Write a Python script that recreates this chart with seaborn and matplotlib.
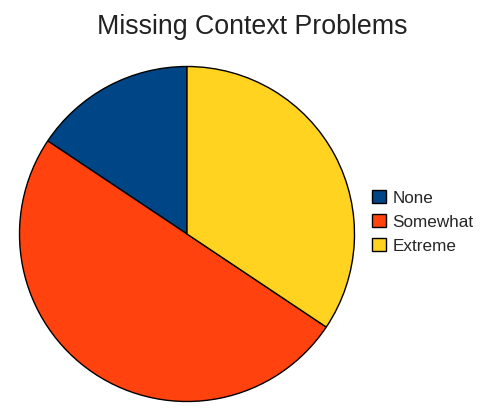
import matplotlib
matplotlib.use("Agg")
import matplotlib.pyplot as plt
import seaborn as sns

categories = ["None", "Somewhat", "Extreme"]
counts = [5, 16, 11]
colors = ["#004586", "#ff420e", "#ffd320"]

sns.set_style("white")
plt.rcParams["font.family"] = ["Liberation Sans", "DejaVu Sans"]

W, H = 485, 412
fig = plt.figure(figsize=(W / 100, H / 100), dpi=100)
fig.patch.set_facecolor("white")

# pie area: centre (187, 234) px, radius 168 px
cx, cy, r = 187, 234, 168
ax = fig.add_axes([(cx - r) / W, (H - cy - r) / H, 2 * r / W, 2 * r / H])
wedges, _ = ax.pie(counts, colors=colors, startangle=90, counterclock=True,
                   radius=1.0, wedgeprops=dict(edgecolor="black", linewidth=1.0))
ax.set_xlim(-1.003, 1.003)
ax.set_ylim(-1.003, 1.003)
ax.set_aspect("equal")
ax.axis("off")

fig.text(252 / W, 1 - 27 / H, "Missing Context Problems", ha="center", va="center",
         fontsize=19.3, color="#222222")

fig.legend(wedges, categories, loc="center left", bbox_to_anchor=(372 / W, 1 - 222 / H),
           frameon=False, fontsize=12.3, handlelength=0.8, handleheight=0.8,
           handletextpad=0.4, labelspacing=0.5, borderpad=0.0, borderaxespad=0.0)

fig.savefig("out.png", dpi=100, facecolor="white")
